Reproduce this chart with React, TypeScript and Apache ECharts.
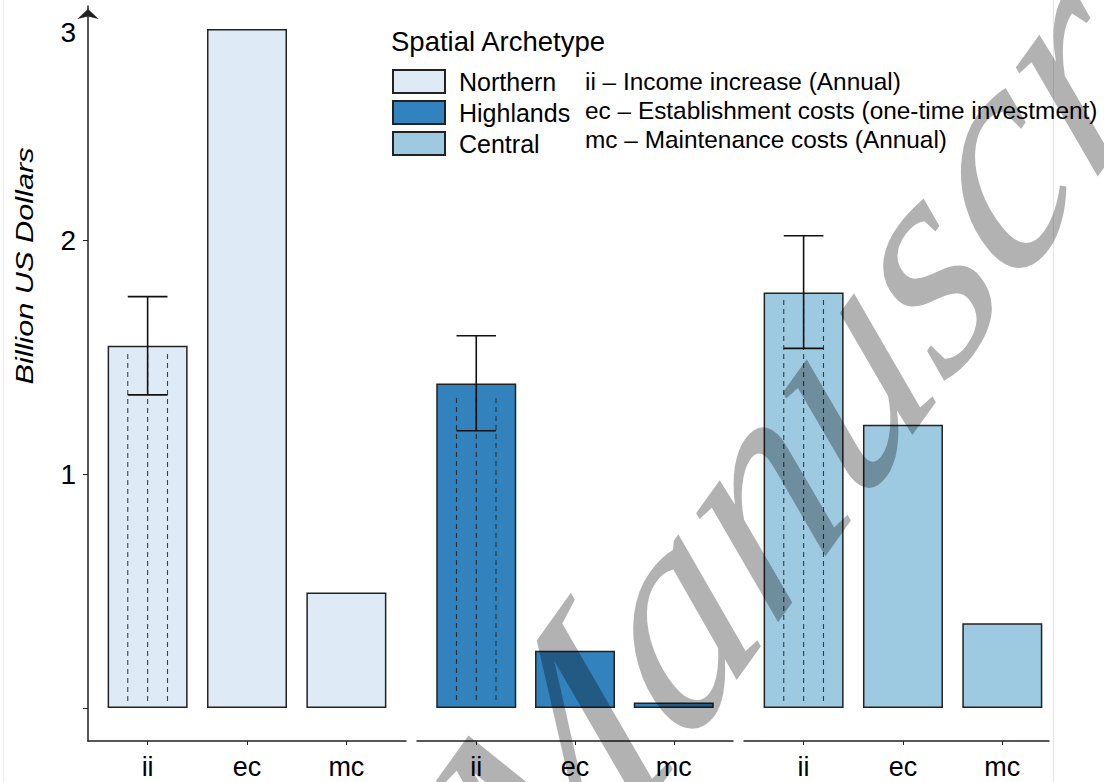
import React, { useEffect, useRef } from "react";
import * as echarts from "echarts";

const categories = ["ii", "ec", "mc"];
const archetypes = ["Northern", "Highlands", "Central"];
const northernValues = [1.548, 2.902, 0.494];
const highlandsValues = [1.387, 0.245, 0.024];
const centralValues = [1.776, 1.211, 0.362];
const errorLow = [1.338, 1.185, 1.537];
const errorHigh = [1.758, 1.591, 2.018];
const dashTop = [1.513, 1.325, 1.744];
const dashBottom = 0.017;
const yTickValues = [0, 1, 2];
const yLabelPositions = [1, 2, 2.885];
const yLabelTexts = ["1", "2", "3"];
const descriptions = [
  "ii – Income increase (Annual)",
  "ec – Establishment costs (one-time investment)",
  "mc – Maintenance costs (Annual)",
];
const colors = ["#deebf7", "#3182bd", "#9ecae1"];

const SANS = "'Liberation Sans', Arial, Helvetica, sans-serif";

export default function App() {
  const ref = useRef<HTMLDivElement>(null);
  useEffect(() => {
    if (!ref.current) return;
    const chart = echarts.init(ref.current, undefined, { renderer: "svg" });
    const allValues = [northernValues, highlandsValues, centralValues];
    const grids = [
      { left: 88, top: 6, width: 318, height: 735 },
      { left: 417, top: 6, width: 316, height: 735 },
      { left: 744, top: 6, width: 305, height: 735 },
    ];
    const xRanges = [
      [0.4, 3.6],
      [0.4, 3.6],
      [0.4, 3.47],
    ];
    const yMin = -0.141;
    const yMax = 3;

    const xAxis = grids.map((_, i) => ({
      type: "value",
      gridIndex: i,
      min: xRanges[i][0],
      max: xRanges[i][1],
      axisLine: { show: true, onZero: false, lineStyle: { color: "#222", width: 1.5 } },
      axisTick: { show: true, customValues: [1, 2, 3], length: 4, lineStyle: { color: "#222", width: 1 } },
      axisLabel: {
        show: true,
        customValues: [1, 2, 3],
        formatter: (v: number) => categories[Math.round(v) - 1] ?? "",
        fontSize: 27,
        fontFamily: SANS,
        color: "#000",
        margin: 12,
      },
      splitLine: { show: false },
    }));

    const yAxis = grids.map((_, i) => ({
      type: "value",
      gridIndex: i,
      min: yMin,
      max: yMax,
      show: i === 0,
      axisLine: {
        show: true,
        onZero: false,
        symbol: ["none", "arrow"],
        symbolSize: [16, 10],
        symbolOffset: [0, -3],
        lineStyle: { color: "#222", width: 1.5 },
      },
      axisTick: { show: true, customValues: yTickValues, length: 5, lineStyle: { color: "#222", width: 1 } },
      axisLabel: {
        show: true,
        customValues: yLabelPositions,
        formatter: (v: number) => {
          let best = 0;
          yLabelPositions.forEach((p, k) => {
            if (Math.abs(p - v) < Math.abs(yLabelPositions[best] - v)) best = k;
          });
          return yLabelTexts[best];
        },
        fontSize: 28,
        fontFamily: SANS,
        color: "#000",
        margin: 12,
      },
      splitLine: { show: false },
    }));

    const barSeries = allValues.map((vals, i) => ({
      name: archetypes[i],
      type: "bar",
      xAxisIndex: i,
      yAxisIndex: i,
      barWidth: 80,
      z: 2,
      data: vals.map((v, j) => [j + 1, v]),
      itemStyle: { color: colors[i], borderColor: "#222", borderWidth: 1.5 },
    }));

    const errSeries = allValues.map((_, i) => ({
      type: "custom",
      xAxisIndex: i,
      yAxisIndex: i,
      z: 5,
      data: [[1, errorLow[i], errorHigh[i], dashTop[i]]],
      renderItem: (params: any, api: any) => {
        const x = api.value(0);
        const lo = api.coord([x, api.value(1)]);
        const hi = api.coord([x, api.value(2)]);
        const dt = api.coord([x, api.value(3)])[1];
        const db = api.coord([x, dashBottom])[1];
        const half = api.size([0.2, 0])[0];
        const cx = hi[0];
        const dashStyle = { stroke: "#222", lineWidth: 1.1, lineDash: [5, 4], opacity: 0.85 };
        const errStyle = { stroke: "#111", lineWidth: 1.6 };
        return {
          type: "group",
          children: [
            { type: "line", shape: { x1: cx - half, y1: dt, x2: cx - half, y2: db }, style: dashStyle },
            { type: "line", shape: { x1: cx, y1: dt, x2: cx, y2: db }, style: dashStyle },
            { type: "line", shape: { x1: cx + half, y1: dt, x2: cx + half, y2: db }, style: dashStyle },
            { type: "line", shape: { x1: cx, y1: lo[1], x2: cx, y2: hi[1] }, style: errStyle },
            { type: "line", shape: { x1: cx - half, y1: lo[1], x2: cx + half, y2: lo[1] }, style: errStyle },
            { type: "line", shape: { x1: cx - half, y1: hi[1], x2: cx + half, y2: hi[1] }, style: errStyle },
          ],
        };
      },
    }));

    const option: any = {
      animation: false,
      backgroundColor: "#fff",
      grid: grids.map((g) => ({ ...g, containLabel: false })),
      xAxis,
      yAxis,
      legend: {
        data: archetypes,
        orient: "vertical",
        left: 392,
        top: 69,
        padding: 0,
        itemWidth: 52,
        itemHeight: 23,
        itemGap: 6,
        icon: "rect",
        selectedMode: false,
        textStyle: { fontSize: 25, fontFamily: SANS, color: "#000", lineHeight: 23, padding: [0, 0, 0, 9] },
      },
      graphic: [
        { type: "line", shape: { x1: 3.5, y1: 0, x2: 3.5, y2: 782 }, style: { stroke: "#ececec", lineWidth: 1 }, silent: true },
        { type: "line", shape: { x1: 1053.5, y1: 0, x2: 1053.5, y2: 782 }, style: { stroke: "#e4e4e4", lineWidth: 1 }, silent: true },
        {
          type: "text",
          x: 391,
          y: 41,
          style: {
            text: "Spatial Archetype",
            font: `27.5px ${SANS}`,
            fill: "#000",
            textVerticalAlign: "middle",
            verticalAlign: "middle",
          },
        },
        ...descriptions.map((d, k) => ({
          type: "text",
          x: 585,
          y: 81 + k * 29,
          style: {
            text: d,
            font: `24.4px ${SANS}`,
            fill: "#000",
            textVerticalAlign: "middle",
            verticalAlign: "middle",
          },
        })),
        {
          type: "text",
          x: 25,
          y: 266,
          rotation: Math.PI / 2,
          scaleX: 1.28,
          style: {
            text: "Billion US Dollars",
            font: `italic 24px ${SANS}`,
            fill: "#000",
            textAlign: "center",
            align: "center",
            textVerticalAlign: "middle",
            verticalAlign: "middle",
          },
        },
        {
          type: "group",
          x: 0,
          y: 0,
          scaleY: 1.3,
          z: 100,
          silent: true,
          children: [
            {
              type: "text",
              x: 878,
              y: 245,
              z: 100,
              rotation: (47 * Math.PI) / 180,
              silent: true,
              style: {
                text: "Manuscript",
                font: "italic 255px 'Liberation Serif', 'DejaVu Serif', serif",
                fill: "rgba(0,0,0,0.3)",
                textAlign: "center",
                align: "center",
                textVerticalAlign: "middle",
                verticalAlign: "middle",
              },
            },
          ],
        },
      ],
      series: [...barSeries, ...errSeries],
    };
    chart.setOption(option);
    return () => chart.dispose();
  }, []);
  return (
    <div
      ref={ref}
      style={{ position: "fixed", left: 0, top: 0, width: 1104, height: 782, background: "#fff" }}
    />
  );
}
